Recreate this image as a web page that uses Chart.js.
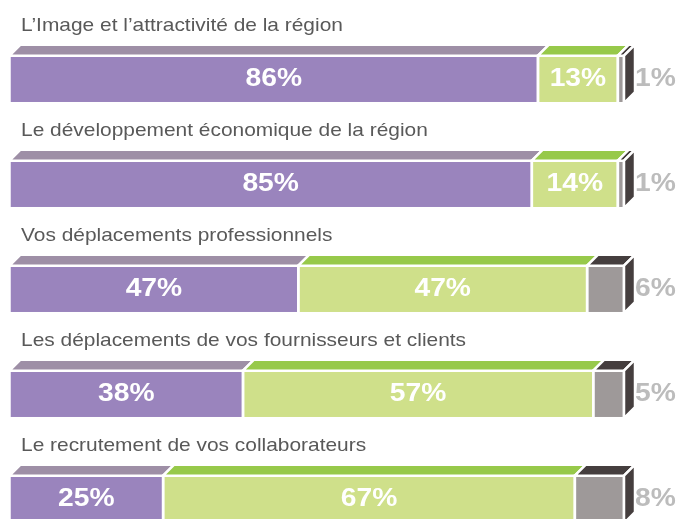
<!DOCTYPE html>
<html>
<head>
<meta charset="utf-8">
<script src="https://cdn.jsdelivr.net/npm/chart.js@4/dist/chart.umd.min.js"></script>
<style>
  html, body { margin: 0; padding: 0; background: #fff; }
  #wrap { width: 696px; height: 519px; }
</style>
</head>
<body>
<div id="wrap"><canvas id="myChart"></canvas></div>
<script>
const categories = [
    'L\u2019Image et l\u2019attractivité de la région',
    'Le développement économique de la région',
    'Vos déplacements professionnels',
    'Les déplacements de vos fournisseurs et clients',
    'Le recrutement de vos collaborateurs'
];
const positif = [86, 85, 47, 38, 25];
const negatif = [13, 14, 47, 57, 67];
const sansAvis = [1, 1, 6, 5, 8];

const frontColors = ['#9a84bd', '#cfe08a', '#9e9999'];
const topColors = ['#9e8fa6', '#97c94a', '#453e3e'];
const sideColor = '#453e3e';
const depth = 11;
const stretch = 1.13; // le texte d'origine est un peu étiré en largeur

function drawText(ctx, text, x, y, align) {
    ctx.save();
    ctx.translate(x, y);
    ctx.scale(stretch, 1);
    ctx.textAlign = align;
    ctx.fillText(text, 0, 0);
    ctx.restore();
}

// faces du dessus et côté droit (effet 3D)
const box3d = {
    id: 'box3d',
    afterDatasetsDraw(chart) {
        const ctx = chart.ctx;
        const last = chart.data.datasets.length - 1;
        ctx.save();
        ctx.lineWidth = 2.5;
        ctx.strokeStyle = '#fff';
        chart.data.datasets.forEach((ds, di) => {
            chart.getDatasetMeta(di).data.forEach(bar => {
                const left = Math.min(bar.x, bar.base);
                const right = Math.max(bar.x, bar.base);
                const top = bar.y - bar.height / 2;
                const bottom = bar.y + bar.height / 2;
                ctx.strokeRect(left, top, right - left, bottom - top);

                ctx.beginPath();
                ctx.moveTo(left, top);
                ctx.lineTo(left + depth, top - depth);
                ctx.lineTo(right + depth, top - depth);
                ctx.lineTo(right, top);
                ctx.closePath();
                ctx.fillStyle = topColors[di];
                ctx.fill();
                ctx.stroke();

                if (di === last) {
                    ctx.beginPath();
                    ctx.moveTo(right, top);
                    ctx.lineTo(right + depth, top - depth);
                    ctx.lineTo(right + depth, bottom - depth);
                    ctx.lineTo(right, bottom);
                    ctx.closePath();
                    ctx.fillStyle = sideColor;
                    ctx.fill();
                    ctx.stroke();
                }
            });
        });
        ctx.restore();
    },
    afterDraw(chart) {
        const ctx = chart.ctx;
        const last = chart.data.datasets.length - 1;
        ctx.save();
        ctx.textBaseline = 'alphabetic';

        // titres des catégories
        ctx.font = '18.5px "Liberation Sans", Arial, sans-serif';
        ctx.fillStyle = '#595959';
        chart.getDatasetMeta(0).data.forEach((bar, i) => {
            drawText(ctx, categories[i], 21, bar.y - 48, 'left');
        });

        ctx.font = 'bold 25px "Liberation Sans", Arial, sans-serif';
        chart.data.datasets.forEach((ds, di) => {
            chart.getDatasetMeta(di).data.forEach((bar, i) => {
                const val = ds.data[i].x + '%';
                if (di === last) {
                    ctx.fillStyle = '#bcbcbc';
                    drawText(ctx, val, Math.max(bar.x, bar.base) + depth, bar.y + 6.5, 'left');
                } else {
                    ctx.fillStyle = '#ffffff';
                    drawText(ctx, val, (bar.x + bar.base) / 2, bar.y + 6.5, 'center');
                }
            });
        });
        ctx.restore();
    }
};

const toPoints = arr => arr.map((v, i) => ({ x: v, y: i }));

const chart = new Chart(document.getElementById('myChart').getContext('2d'), {
    type: 'bar',
    data: {
        datasets: [
            { label: 'Positif', data: toPoints(positif), backgroundColor: frontColors[0] },
            { label: 'Négatif', data: toPoints(negatif), backgroundColor: frontColors[1] },
            { label: 'Sans avis', data: toPoints(sansAvis), backgroundColor: frontColors[2] }
        ]
    },
    options: {
        indexAxis: 'y',
        responsive: true,
        maintainAspectRatio: false,
        animation: false,
        datasets: {
            bar: { barThickness: 47.5, borderWidth: 0 }
        },
        layout: { padding: { left: 9.5, right: 72, top: 0, bottom: 0 } },
        scales: {
            x: { stacked: true, min: 0, max: 100, display: false },
            y: {
                type: 'linear', stacked: true, offset: false, grid: { offset: false },
                min: -0.757, max: 4.186, reverse: true, display: false
            }
        },
        plugins: {
            legend: { display: false },
            tooltip: { enabled: false }
        }
    },
    plugins: [box3d]
});
</script>
</body>
</html>
